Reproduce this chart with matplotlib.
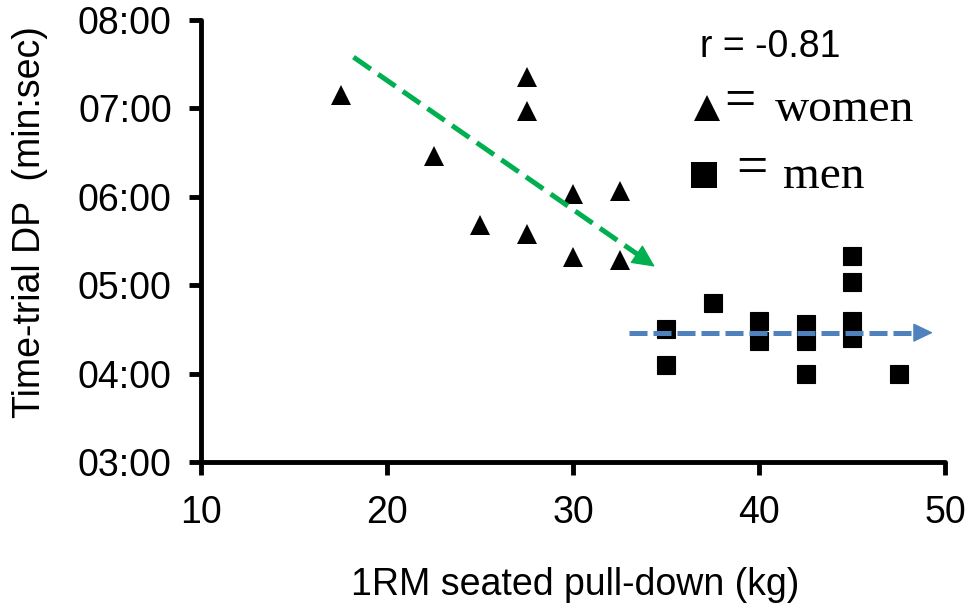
import matplotlib
matplotlib.use('Agg')
from matplotlib import pyplot as plt
from matplotlib.ticker import FuncFormatter

# Женщины (треугольники)
women_kg = [17.5, 22.5, 25, 27.5, 27.5, 27.5, 30, 30, 32.5, 32.5]
women_time = ['7:09', '6:28', '5:41', '7:21', '6:58', '5:35', '6:02', '5:19', '6:04', '5:17']

# Мужчины (квадраты)
men_kg = [35, 35, 37.5, 40, 40, 42.5, 42.5, 42.5, 45, 45, 45, 45, 47.5]
men_time = ['4:30', '4:06', '4:48', '4:36', '4:22', '4:34', '4:22', '4:00',
            '5:20', '5:02', '4:36', '4:24', '4:00']


def to_min(s):
    m, sec = s.split(':')
    return int(m) + int(sec) / 60


def fmt(v, pos):
    total = int(round(v * 60))
    return '%02d:%02d' % (total // 60, total % 60)


plt.rcParams['font.family'] = ['Liberation Sans', 'DejaVu Sans']

fig = plt.figure(figsize=(9.73, 6.06), dpi=100)
ax = fig.add_axes([201 / 973, 1 - 462 / 606, (945 - 201) / 973, (462 - 20) / 606])

ax.plot(women_kg, [to_min(t) for t in women_time], linestyle='none', marker='^',
        markersize=14.5, color='black', markeredgewidth=0)
ax.plot(men_kg, [to_min(t) for t in men_time], linestyle='none', marker='s',
        markersize=12.5, color='black', markeredgewidth=0.8, markeredgecolor='black')

# Стрелки-тренды
green = '#00B050'
blue = '#4F81BD'
ax.plot([18.2, 33.6], [7.58, 5.33], color=green, lw=3.6, linestyle=(0, (4.2, 1.8)),
        dash_capstyle='butt', zorder=3)
ax.annotate('', xy=(34.4, 5.21), xytext=(33.5, 5.34),
            arrowprops=dict(arrowstyle='-|>,head_length=1.45,head_width=0.7', color=green,
                            lw=1, shrinkA=0, shrinkB=0), zorder=3)
ax.plot([33, 48.5], [4.463, 4.463], color=blue, lw=3.6, linestyle=(0, (3.6, 1.2)),
        dash_capstyle='butt', zorder=3)
ax.annotate('', xy=(49.35, 4.463), xytext=(48.4, 4.463),
            arrowprops=dict(arrowstyle='-|>,head_length=1.25,head_width=0.6', color=blue,
                            lw=1, shrinkA=0, shrinkB=0), zorder=3)

ax.set_xlim(10, 50)
ax.set_ylim(3, 8)
ax.set_xticks([10, 20, 30, 40, 50])
ax.set_yticks([3, 4, 5, 6, 7, 8])
ax.yaxis.set_major_formatter(FuncFormatter(fmt))
ax.spines['top'].set_visible(False)
ax.spines['right'].set_visible(False)
ax.spines['left'].set_linewidth(3.5)
ax.spines['bottom'].set_linewidth(3.5)
ax.spines['left'].set_capstyle('round')
ax.spines['bottom'].set_capstyle('round')
ax.tick_params(axis='both', direction='out', length=9, width=3.5, labelsize=27, pad=12)
ax.tick_params(axis='x', pad=15)

fig.text(575 / 973, 1 - 595 / 606, '1RM seated pull-down (kg)', fontsize=27,
         ha='center', va='baseline')
fig.text(30 / 973, 1 - 222 / 606, 'Time-trial DP  (min:sec)', fontsize=27,
         ha='center', va='center', rotation=90)

# Подписи-легенда
fig.text(700 / 973, 1 - 57 / 606, 'r = -0.81', fontsize=27, va='baseline')
ax.plot([706.5 / 973], [1 - 108 / 606], marker='^', markersize=19, color='black',
        markeredgewidth=0, transform=fig.transFigure, clip_on=False)
ax.plot([704 / 973], [1 - 175 / 606], marker='s', markersize=18.5, color='black',
        markeredgewidth=0, transform=fig.transFigure, clip_on=False)
serif = ['Liberation Serif', 'DejaVu Sans']
fig.text(724 / 973, 1 - 117 / 606, '=', fontsize=40, family=serif, va='baseline')
fig.text(736 / 973, 1 - 184 / 606, '=', fontsize=40, family=serif, va='baseline')
fig.text(775 / 973, 1 - 121 / 606, 'women', fontsize=34, family=serif, va='baseline')
fig.text(783 / 973, 1 - 188 / 606, 'men', fontsize=34, family=serif, va='baseline')

fig.savefig('out.png', dpi=100)
